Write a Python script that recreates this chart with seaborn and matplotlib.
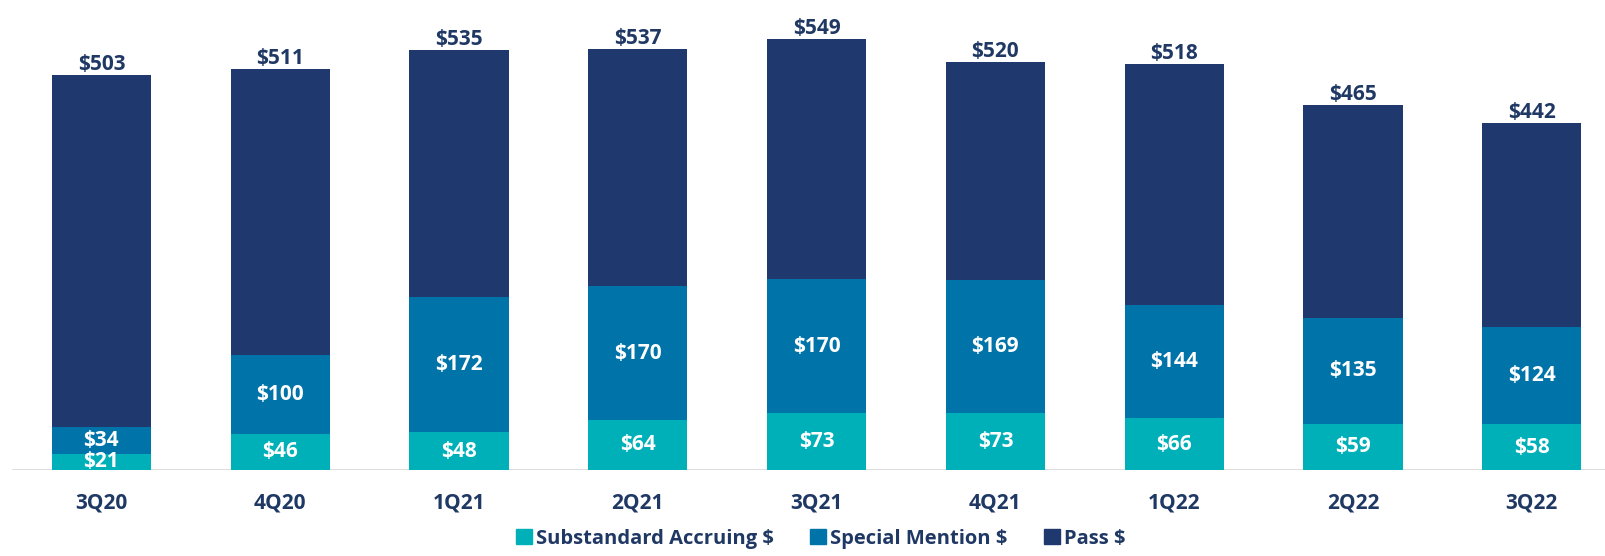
import pandas as pd
import numpy as np
import matplotlib
matplotlib.use('Agg')
import matplotlib.pyplot as plt
import seaborn as sns
from matplotlib.patches import Patch

quarters = ['3Q20', '4Q20', '1Q21', '2Q21', '3Q21', '4Q21', '1Q22', '2Q22', '3Q22']
substandard = [21, 46, 48, 64, 73, 73, 66, 59, 58]
special_mention = [34, 100, 172, 170, 170, 169, 144, 135, 124]
passed = [448, 365, 315, 303, 306, 278, 308, 271, 260]
totals = [503, 511, 535, 537, 549, 520, 518, 465, 442]

TEAL = '#00B0B9'
BLUE = '#0073A8'
NAVY = '#1F386E'
TXT = '#1F3864'

sns.set_style('white')
plt.rcParams['font.family'] = ['Open Sans', 'DejaVu Sans']
FS = 15

df = pd.DataFrame({'quarter': quarters, 'sub': substandard,
                   'sm': special_mention, 'pass': passed, 'total': totals})

fig = plt.figure(figsize=(16.06, 5.56), dpi=100)
ax = fig.add_axes([12 / 1606, 86 / 556, 1594 / 1606, 470 / 556])

w = 0.555
bar_kw = dict(width=w, saturation=1, linewidth=0, edgecolor='none', ax=ax)
sns.barplot(data=df, x='quarter', y='sub', color=TEAL, **bar_kw)
sns.barplot(data=df, x='quarter', y='sm', color=BLUE, bottom=df['sub'], **bar_kw)
sns.barplot(data=df, x='quarter', y='pass', color=NAVY,
            bottom=df['sub'] + df['sm'], **bar_kw)

# segment labels
for cont, vals in zip(ax.containers[:2], [substandard, special_mention]):
    ax.bar_label(cont, labels=[f'${v}' for v in vals], label_type='center',
                 color='white', fontsize=FS, fontweight='bold')

# totals on top
for i, t in enumerate(totals):
    ax.annotate(f'${t}', (i, t), xytext=(0, 0), textcoords='offset points',
                ha='center', va='bottom', color=TXT, fontsize=FS, fontweight='bold')

ax.axhline(0, color='#D9D9D9', lw=2, zorder=0)
ax.set_xlim(-0.5, 8.415)
ax.set_ylim(0, 599)
ax.set_xlabel('')
ax.set_ylabel('')
ax.set_yticks([])
ax.tick_params(axis='x', length=0, pad=16, labelsize=FS, labelcolor=TXT)
for lbl in ax.get_xticklabels():
    lbl.set_fontweight('bold')
sns.despine(ax=ax, left=True, bottom=True)

handles = [Patch(color=TEAL, label='Substandard Accruing $'),
           Patch(color=BLUE, label='Special Mention $'),
           Patch(color=NAVY, label='Pass $')]
leg = fig.legend(handles=handles, loc='lower center', bbox_to_anchor=(0.511, -0.012), ncol=3,
                 frameon=False, handlelength=0.8, handleheight=0.8, handletextpad=0.2,
                 columnspacing=1.8, borderpad=0.2, prop={'size': 14.5, 'weight': 'bold'})
for t in leg.get_texts():
    t.set_color(TXT)

fig.savefig('out.png', dpi=100)
